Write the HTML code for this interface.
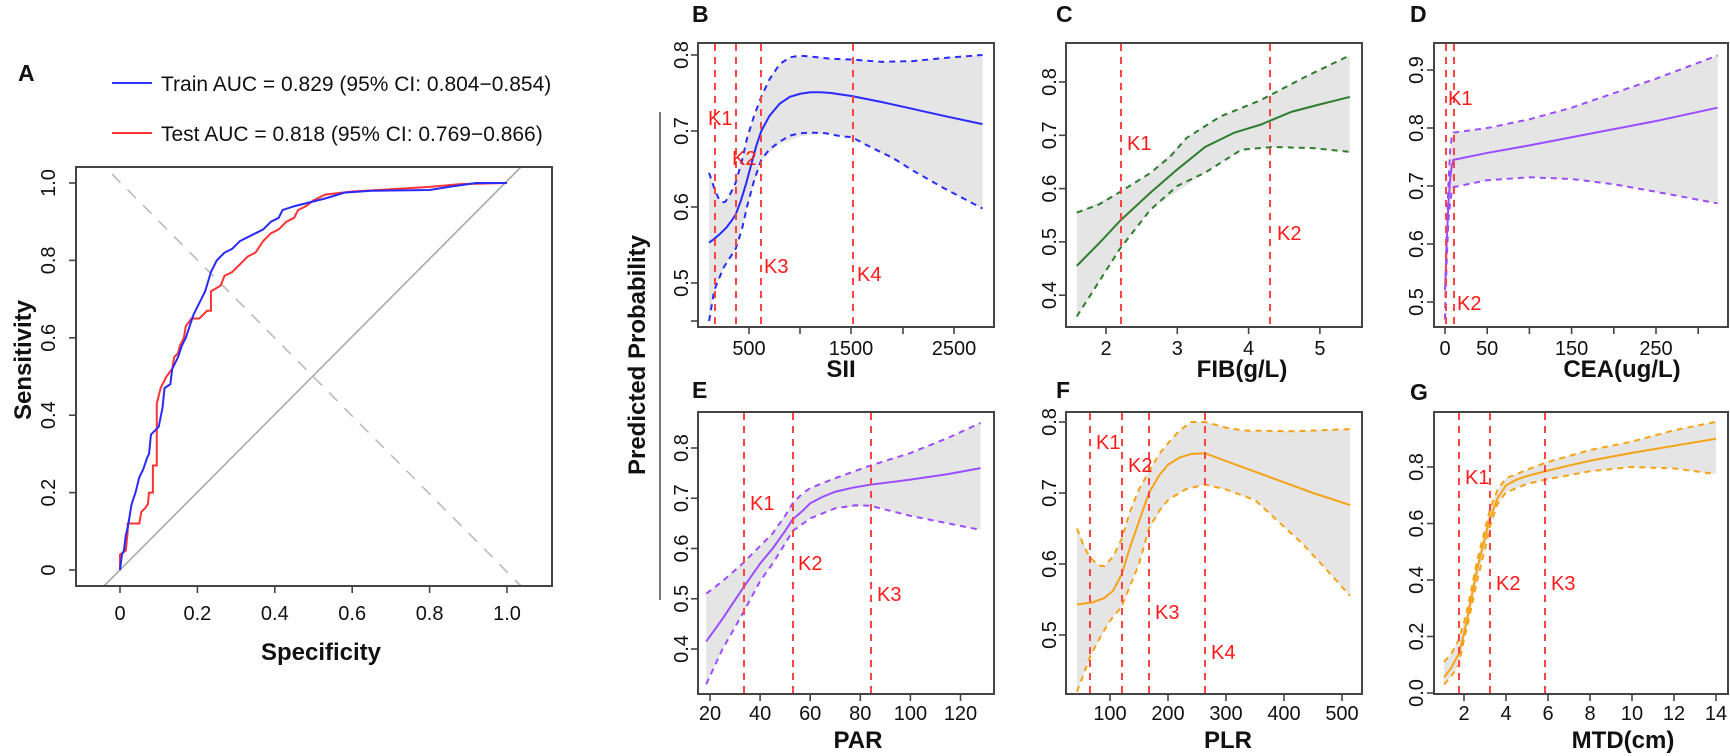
<!DOCTYPE html>
<html><head><meta charset="utf-8"><style>
html,body{margin:0;padding:0;background:#fff;}
svg{display:block;}
text{font-family:"Liberation Sans",Arial,sans-serif;}
.t{font-size:20px;fill:#111;}
.b{font-size:24px;font-weight:bold;fill:#111;}
.L{font-size:23px;font-weight:bold;fill:#111;}
.k{font-size:20px;fill:#ff1a1a;}
.fr{fill:none;stroke:#444;stroke-width:2;}
.tk{stroke:#444;stroke-width:1.6;}
.kl{stroke:#ff4444;stroke-width:2;stroke-dasharray:7,6;}
.sh{fill:#e5e5e5;stroke:none;}
.m{fill:none;stroke-width:2;vector-effect:non-scaling-stroke;}
.d{fill:none;stroke-width:2;stroke-dasharray:6,5;vector-effect:non-scaling-stroke;}
</style></head><body>
<svg width="1730" height="756" viewBox="0 0 1730 756" xmlns="http://www.w3.org/2000/svg">
<!-- ================= Panel A ================= -->
<text class="L" x="18" y="81">A</text>
<line x1="112" y1="83" x2="152" y2="83" stroke="#3333ff" stroke-width="2"/>
<text x="161" y="91" style="font-size:21px;fill:#111">Train AUC = 0.829 (95% CI: 0.804−0.854)</text>
<line x1="112" y1="133" x2="152" y2="133" stroke="#ff3333" stroke-width="2"/>
<text x="161" y="141" style="font-size:21px;fill:#111">Test AUC = 0.818 (95% CI: 0.769−0.866)</text>
<line x1="104" y1="586" x2="521" y2="167" stroke="#aaa" stroke-width="1.6"/>
<line x1="112" y1="174" x2="521" y2="586" stroke="#bbb" stroke-width="1.6" stroke-dasharray="12,10"/>
<g transform="matrix(387 0 0 -387 120 570)">
<polyline class="m" stroke="#ff3333" points="0,0 0,0.04 0.015,0.05 0.02,0.1 0.02,0.12 0.05,0.12 0.055,0.15 0.065,0.16 0.072,0.17 0.075,0.2 0.085,0.2 0.085,0.27 0.095,0.27 0.095,0.43 0.105,0.47 0.115,0.49 0.12,0.5 0.135,0.52 0.14,0.55 0.15,0.56 0.155,0.58 0.165,0.6 0.17,0.63 0.185,0.65 0.205,0.65 0.225,0.67 0.235,0.67 0.235,0.72 0.26,0.735 0.27,0.76 0.29,0.77 0.31,0.79 0.33,0.81 0.35,0.82 0.37,0.85 0.39,0.87 0.41,0.88 0.43,0.9 0.45,0.91 0.46,0.93 0.48,0.94 0.5,0.955 0.53,0.97 0.6,0.978 0.72,0.985 0.8,0.99 0.88,0.997 1,1"/>
<polyline class="m" stroke="#2a2aff" points="0,0 0.005,0.04 0.01,0.05 0.015,0.09 0.02,0.11 0.03,0.17 0.04,0.2 0.05,0.24 0.06,0.26 0.07,0.29 0.075,0.3 0.08,0.35 0.09,0.36 0.1,0.37 0.11,0.42 0.115,0.47 0.13,0.48 0.135,0.52 0.15,0.55 0.16,0.58 0.17,0.6 0.18,0.63 0.19,0.66 0.2,0.68 0.21,0.7 0.22,0.72 0.235,0.77 0.25,0.8 0.27,0.82 0.29,0.83 0.31,0.85 0.33,0.86 0.35,0.87 0.37,0.88 0.39,0.9 0.41,0.91 0.42,0.93 0.45,0.94 0.49,0.95 0.53,0.96 0.58,0.975 0.65,0.98 0.8,0.982 0.85,0.99 0.92,1 1,1"/>
</g>
<rect class="fr" x="76" y="167" width="476" height="419"/>
<g class="tk"><line x1="120" y1="586" x2="120" y2="593"/><line x1="197.4" y1="586" x2="197.4" y2="593"/><line x1="274.8" y1="586" x2="274.8" y2="593"/><line x1="352.2" y1="586" x2="352.2" y2="593"/><line x1="429.6" y1="586" x2="429.6" y2="593"/><line x1="507" y1="586" x2="507" y2="593"/>
<line x1="69" y1="570" x2="76" y2="570"/><line x1="69" y1="492.6" x2="76" y2="492.6"/><line x1="69" y1="415.2" x2="76" y2="415.2"/><line x1="69" y1="337.8" x2="76" y2="337.8"/><line x1="69" y1="260.4" x2="76" y2="260.4"/><line x1="69" y1="183" x2="76" y2="183"/></g>
<g class="t" text-anchor="middle"><text x="120" y="620">0</text><text x="197.4" y="620">0.2</text><text x="274.8" y="620">0.4</text><text x="352.2" y="620">0.6</text><text x="429.6" y="620">0.8</text><text x="507" y="620">1.0</text></g>
<g class="t" text-anchor="middle">
<text transform="translate(55,570) rotate(-90)">0</text><text transform="translate(55,492.6) rotate(-90)">0.2</text><text transform="translate(55,415.2) rotate(-90)">0.4</text><text transform="translate(55,337.8) rotate(-90)">0.6</text><text transform="translate(55,260.4) rotate(-90)">0.8</text><text transform="translate(55,183) rotate(-90)">1.0</text></g>
<text class="b" text-anchor="middle" x="321" y="660">Specificity</text>
<text class="b" text-anchor="middle" transform="translate(31,360) rotate(-90)">Sensitivity</text>

<!-- common y label -->
<line x1="660" y1="112" x2="660" y2="600" stroke="#555" stroke-width="1.6"/>
<text class="b" text-anchor="middle" transform="translate(645,355) rotate(-90)">Predicted Probability</text>

<!-- ================= Panel B ================= -->
<text class="L" x="692" y="22">B</text>
<g transform="matrix(0.1024 0 0 -760 697.8 663)">
<polygon class="sh" points="110,0.645 200,0.61 265,0.605 370,0.63 480,0.69 620,0.745 750,0.78 900,0.797 1100,0.798 1300,0.795 1500,0.794 1800,0.791 2100,0.792 2400,0.796 2780,0.8 2780,0.598 2400,0.625 2100,0.648 1800,0.67 1500,0.692 1250,0.697 1000,0.693 800,0.683 620,0.662 480,0.6 370,0.545 250,0.52 160,0.49 110,0.45"/>
<polyline class="d" stroke="#2a2aff" points="110,0.645 160,0.625 200,0.612 240,0.606 270,0.607 320,0.618 370,0.632 430,0.66 480,0.69 550,0.72 620,0.745 700,0.768 800,0.788 900,0.797 1000,0.799 1100,0.798 1300,0.795 1500,0.794 1800,0.791 2100,0.792 2400,0.796 2780,0.8"/>
<polyline class="d" stroke="#2a2aff" points="110,0.45 160,0.49 250,0.52 370,0.545 430,0.57 480,0.6 550,0.635 620,0.662 700,0.676 800,0.686 900,0.694 1000,0.697 1100,0.698 1250,0.697 1400,0.693 1500,0.692 1700,0.678 1900,0.665 2100,0.648 2400,0.625 2780,0.598"/>
<polyline class="m" stroke="#2a2aff" points="110,0.553 160,0.558 220,0.565 280,0.573 330,0.582 370,0.59 420,0.608 470,0.63 520,0.655 570,0.68 620,0.7 700,0.72 800,0.736 900,0.745 1000,0.749 1100,0.751 1200,0.751 1300,0.75 1400,0.748 1500,0.746 1800,0.738 2100,0.729 2400,0.72 2780,0.709"/>
</g>
<g class="kl"><line x1="715" y1="44" x2="715" y2="327"/><line x1="736" y1="44" x2="736" y2="327"/><line x1="761" y1="44" x2="761" y2="327"/><line x1="853" y1="44" x2="853" y2="327"/></g>
<g class="k"><text x="708" y="125">K1</text><text x="732" y="165">K2</text><text x="764" y="273">K3</text><text x="857" y="281">K4</text></g>
<rect class="fr" x="698" y="43" width="296" height="284"/>
<g class="tk"><line x1="749" y1="327" x2="749" y2="334"/><line x1="800" y1="327" x2="800" y2="334"/><line x1="851" y1="327" x2="851" y2="334"/><line x1="903" y1="327" x2="903" y2="334"/><line x1="954" y1="327" x2="954" y2="334"/>
<line x1="691" y1="55" x2="698" y2="55"/><line x1="691" y1="131" x2="698" y2="131"/><line x1="691" y1="207" x2="698" y2="207"/><line x1="691" y1="283" x2="698" y2="283"/><line x1="691" y1="321" x2="698" y2="321"/></g>
<g class="t" text-anchor="middle"><text x="749" y="355">500</text><text x="851" y="355">1500</text><text x="954" y="355">2500</text>
<text transform="translate(688,55) rotate(-90)">0.8</text><text transform="translate(688,131) rotate(-90)">0.7</text><text transform="translate(688,207) rotate(-90)">0.6</text><text transform="translate(688,283) rotate(-90)">0.5</text></g>
<text class="b" text-anchor="middle" x="841" y="377">SII</text>

<!-- ================= Panel C ================= -->
<text class="L" x="1056" y="22">C</text>
<g transform="matrix(71.3 0 0 -533 963.4 508.4)">
<polygon class="sh" points="1.59,0.555 2.2,0.594 2.62,0.629 3.13,0.695 3.6,0.735 4.17,0.766 4.8,0.81 5.42,0.85 5.42,0.669 4.9,0.676 4.33,0.678 3.9,0.673 3.39,0.63 2.62,0.56 2.2,0.488 1.59,0.36"/>
<polyline class="d" stroke="#2e7d2e" points="1.59,0.555 1.9,0.57 2.2,0.594 2.62,0.629 2.9,0.66 3.13,0.695 3.6,0.735 4.17,0.766 4.8,0.81 5.42,0.85"/>
<polyline class="d" stroke="#2e7d2e" points="1.59,0.36 1.9,0.425 2.2,0.488 2.62,0.56 3,0.605 3.39,0.63 3.9,0.673 4.33,0.678 4.9,0.676 5.42,0.669"/>
<polyline class="m" stroke="#2e7d2e" points="1.59,0.455 1.9,0.497 2.2,0.54 2.62,0.592 3,0.636 3.39,0.678 3.8,0.705 4.17,0.72 4.6,0.744 5,0.758 5.42,0.772"/>
</g>
<g class="kl"><line x1="1121" y1="44" x2="1121" y2="327"/><line x1="1270" y1="44" x2="1270" y2="327"/></g>
<g class="k"><text x="1127" y="150">K1</text><text x="1277" y="240">K2</text></g>
<rect class="fr" x="1066" y="43" width="296" height="284"/>
<g class="tk"><line x1="1106" y1="327" x2="1106" y2="334"/><line x1="1177.3" y1="327" x2="1177.3" y2="334"/><line x1="1248.6" y1="327" x2="1248.6" y2="334"/><line x1="1319.9" y1="327" x2="1319.9" y2="334"/>
<line x1="1059" y1="82" x2="1066" y2="82"/><line x1="1059" y1="135.3" x2="1066" y2="135.3"/><line x1="1059" y1="188.6" x2="1066" y2="188.6"/><line x1="1059" y1="241.9" x2="1066" y2="241.9"/><line x1="1059" y1="295.2" x2="1066" y2="295.2"/></g>
<g class="t" text-anchor="middle"><text x="1106" y="355">2</text><text x="1177.3" y="355">3</text><text x="1248.6" y="355">4</text><text x="1319.9" y="355">5</text>
<text transform="translate(1056,82) rotate(-90)">0.8</text><text transform="translate(1056,135.3) rotate(-90)">0.7</text><text transform="translate(1056,188.6) rotate(-90)">0.6</text><text transform="translate(1056,241.9) rotate(-90)">0.5</text><text transform="translate(1056,295.2) rotate(-90)">0.4</text></g>
<text class="b" text-anchor="middle" x="1242" y="377">FIB(g/L)</text>

<!-- ================= Panel D ================= -->
<text class="L" x="1410" y="22">D</text>
<g transform="matrix(0.844 0 0 -580 1445 592)">
<polygon class="sh" points="0,0.47 2,0.6 4,0.7 6,0.76 8,0.785 10,0.792 50,0.8 100,0.815 150,0.835 200,0.86 250,0.885 323,0.925 323,0.67 250,0.69 200,0.703 150,0.712 100,0.715 50,0.71 10,0.698 6,0.67 4,0.64 2,0.57 0,0.47"/>
<polyline class="d" stroke="#9b4dff" points="0,0.47 1,0.55 2,0.62 4,0.7 6,0.76 8,0.785 10,0.792 50,0.8 100,0.815 150,0.835 200,0.86 250,0.885 323,0.925"/>
<polyline class="d" stroke="#9b4dff" points="0,0.47 1,0.52 2,0.57 4,0.64 6,0.67 8,0.69 10,0.698 50,0.71 100,0.715 150,0.712 200,0.703 250,0.69 323,0.67"/>
<polyline class="m" stroke="#9b4dff" points="0,0.52 1,0.56 2,0.6 4,0.67 6,0.71 8,0.735 10,0.745 50,0.757 100,0.77 150,0.784 200,0.798 250,0.812 323,0.835"/>
</g>
<g class="kl"><line x1="1446" y1="44" x2="1446" y2="327"/><line x1="1454" y1="44" x2="1454" y2="327"/></g>
<g class="k"><text x="1448" y="105">K1</text><text x="1457" y="310">K2</text></g>
<rect class="fr" x="1434" y="43" width="294" height="284"/>
<g class="tk"><line x1="1445" y1="327" x2="1445" y2="334"/><line x1="1487.2" y1="327" x2="1487.2" y2="334"/><line x1="1529.4" y1="327" x2="1529.4" y2="334"/><line x1="1571.6" y1="327" x2="1571.6" y2="334"/><line x1="1613.8" y1="327" x2="1613.8" y2="334"/><line x1="1656" y1="327" x2="1656" y2="334"/><line x1="1698.2" y1="327" x2="1698.2" y2="334"/>
<line x1="1427" y1="70" x2="1434" y2="70"/><line x1="1427" y1="128" x2="1434" y2="128"/><line x1="1427" y1="186" x2="1434" y2="186"/><line x1="1427" y1="244" x2="1434" y2="244"/><line x1="1427" y1="302" x2="1434" y2="302"/></g>
<g class="t" text-anchor="middle"><text x="1445" y="355">0</text><text x="1487.2" y="355">50</text><text x="1571.6" y="355">150</text><text x="1656" y="355">250</text>
<text transform="translate(1423,70) rotate(-90)">0.9</text><text transform="translate(1423,128) rotate(-90)">0.8</text><text transform="translate(1423,186) rotate(-90)">0.7</text><text transform="translate(1423,244) rotate(-90)">0.6</text><text transform="translate(1423,302) rotate(-90)">0.5</text></g>
<text class="b" text-anchor="middle" x="1622" y="377">CEA(ug/L)</text>

<!-- ================= Panel E ================= -->
<text class="L" x="692" y="398">E</text>
<g transform="matrix(2.505 0 0 -502.5 659.9 850)">
<polygon class="sh" points="18.5,0.51 25,0.535 33,0.57 40,0.605 45,0.63 53,0.69 60,0.72 70,0.74 84,0.765 100,0.79 115,0.82 128,0.85 128,0.637 115,0.65 100,0.665 84,0.685 70,0.68 60,0.66 53,0.635 45,0.57 40,0.535 33,0.47 25,0.4 18.5,0.33"/>
<polyline class="d" stroke="#9b4dff" points="18.5,0.51 25,0.535 33,0.57 40,0.605 45,0.63 50,0.665 53,0.69 57,0.71 60,0.72 70,0.74 84,0.765 100,0.79 115,0.82 128,0.85"/>
<polyline class="d" stroke="#9b4dff" points="18.5,0.33 25,0.4 33,0.47 40,0.535 45,0.57 50,0.61 53,0.635 60,0.66 70,0.68 78,0.686 84,0.685 100,0.665 115,0.65 128,0.637"/>
<polyline class="m" stroke="#9b4dff" points="18.5,0.415 25,0.46 33,0.52 40,0.57 45,0.6 50,0.635 53,0.658 57,0.675 60,0.69 65,0.703 70,0.713 77,0.721 84,0.727 100,0.737 115,0.748 128,0.76"/>
</g>
<g class="kl"><line x1="744" y1="413" x2="744" y2="694"/><line x1="793" y1="413" x2="793" y2="694"/><line x1="871" y1="413" x2="871" y2="694"/></g>
<g class="k"><text x="750" y="510">K1</text><text x="798" y="570">K2</text><text x="877" y="601">K3</text></g>
<rect class="fr" x="698" y="412" width="296" height="282"/>
<g class="tk"><line x1="710" y1="694" x2="710" y2="701"/><line x1="760.1" y1="694" x2="760.1" y2="701"/><line x1="810.2" y1="694" x2="810.2" y2="701"/><line x1="860.3" y1="694" x2="860.3" y2="701"/><line x1="910.4" y1="694" x2="910.4" y2="701"/><line x1="960.5" y1="694" x2="960.5" y2="701"/>
<line x1="691" y1="448" x2="698" y2="448"/><line x1="691" y1="498.25" x2="698" y2="498.25"/><line x1="691" y1="548.5" x2="698" y2="548.5"/><line x1="691" y1="598.75" x2="698" y2="598.75"/><line x1="691" y1="649" x2="698" y2="649"/></g>
<g class="t" text-anchor="middle"><text x="710" y="720">20</text><text x="760.1" y="720">40</text><text x="810.2" y="720">60</text><text x="860.3" y="720">80</text><text x="910.4" y="720">100</text><text x="960.5" y="720">120</text>
<text transform="translate(688,448) rotate(-90)">0.8</text><text transform="translate(688,498.25) rotate(-90)">0.7</text><text transform="translate(688,548.5) rotate(-90)">0.6</text><text transform="translate(688,598.75) rotate(-90)">0.5</text><text transform="translate(688,649) rotate(-90)">0.4</text></g>
<text class="b" text-anchor="middle" x="858" y="748">PAR</text>

<!-- ================= Panel F ================= -->
<text class="L" x="1056" y="398">F</text>
<g transform="matrix(0.58 0 0 -710 1052 990)">
<polygon class="sh" points="43,0.65 65,0.61 80,0.598 90,0.597 105,0.61 120,0.635 135,0.675 150,0.705 167,0.73 185,0.755 200,0.77 220,0.788 240,0.8 264,0.8 300,0.792 330,0.788 420,0.787 514,0.79 514,0.555 470,0.595 430,0.63 390,0.66 350,0.69 300,0.705 264,0.712 230,0.705 200,0.69 167,0.65 150,0.6 120,0.54 100,0.52 66,0.47 43,0.42"/>
<polyline class="d" stroke="#f5a316" points="43,0.65 55,0.625 65,0.61 80,0.598 90,0.597 105,0.61 120,0.635 135,0.675 150,0.705 167,0.73 185,0.755 200,0.77 220,0.788 240,0.8 264,0.8 300,0.792 330,0.788 420,0.787 514,0.79"/>
<polyline class="d" stroke="#f5a316" points="43,0.42 66,0.47 85,0.5 100,0.52 120,0.54 135,0.57 150,0.6 167,0.65 185,0.675 200,0.69 230,0.705 264,0.712 300,0.705 350,0.69 390,0.66 430,0.63 470,0.595 514,0.555"/>
<polyline class="m" stroke="#f5a316" points="43,0.543 70,0.546 90,0.552 105,0.562 120,0.585 135,0.625 150,0.66 167,0.7 185,0.725 200,0.74 220,0.75 240,0.755 264,0.756 300,0.745 350,0.73 400,0.715 450,0.7 514,0.683"/>
</g>
<g class="kl"><line x1="1090" y1="413" x2="1090" y2="694"/><line x1="1122" y1="413" x2="1122" y2="694"/><line x1="1149" y1="413" x2="1149" y2="694"/><line x1="1205" y1="413" x2="1205" y2="694"/></g>
<g class="k"><text x="1096" y="449">K1</text><text x="1128" y="472">K2</text><text x="1155" y="619">K3</text><text x="1211" y="659">K4</text></g>
<rect class="fr" x="1066" y="412" width="296" height="282"/>
<g class="tk"><line x1="1110" y1="694" x2="1110" y2="701"/><line x1="1168" y1="694" x2="1168" y2="701"/><line x1="1226" y1="694" x2="1226" y2="701"/><line x1="1284" y1="694" x2="1284" y2="701"/><line x1="1342" y1="694" x2="1342" y2="701"/>
<line x1="1059" y1="422" x2="1066" y2="422"/><line x1="1059" y1="493" x2="1066" y2="493"/><line x1="1059" y1="564" x2="1066" y2="564"/><line x1="1059" y1="635" x2="1066" y2="635"/></g>
<g class="t" text-anchor="middle"><text x="1110" y="720">100</text><text x="1168" y="720">200</text><text x="1226" y="720">300</text><text x="1284" y="720">400</text><text x="1342" y="720">500</text>
<text transform="translate(1056,422) rotate(-90)">0.8</text><text transform="translate(1056,493) rotate(-90)">0.7</text><text transform="translate(1056,564) rotate(-90)">0.6</text><text transform="translate(1056,635) rotate(-90)">0.5</text></g>
<text class="b" text-anchor="middle" x="1228" y="748">PLR</text>

<!-- ================= Panel G ================= -->
<text class="L" x="1410" y="400">G</text>
<g transform="matrix(21 0 0 -282.5 1422 693)">
<polygon class="sh" points="1.05,0.11 1.4,0.14 1.76,0.19 2,0.25 2.2,0.31 2.6,0.46 3,0.58 3.24,0.65 3.6,0.72 4,0.76 5,0.79 5.87,0.815 8,0.86 10,0.89 12,0.93 14,0.96 14,0.775 12,0.795 10,0.8 8,0.785 5.87,0.755 5,0.74 4,0.71 3.6,0.67 3.24,0.59 3,0.51 2.6,0.39 2.2,0.25 2,0.19 1.76,0.1 1.4,0.06 1.05,0.03"/>
<polyline class="d" stroke="#f5a316" points="1.05,0.11 1.4,0.14 1.76,0.19 2,0.25 2.2,0.31 2.6,0.46 3,0.58 3.24,0.65 3.6,0.72 4,0.76 5,0.79 5.87,0.815 8,0.86 10,0.89 12,0.93 14,0.96"/>
<polyline class="d" stroke="#f5a316" points="1.05,0.03 1.4,0.06 1.76,0.1 2,0.19 2.2,0.25 2.6,0.39 3,0.51 3.24,0.59 3.6,0.67 4,0.71 5,0.74 5.87,0.755 8,0.785 10,0.8 12,0.795 14,0.775"/>
<polyline class="m" stroke="#f5a316" points="1.05,0.055 1.4,0.09 1.76,0.14 2,0.21 2.2,0.28 2.6,0.43 3,0.55 3.24,0.62 3.6,0.69 4,0.735 4.5,0.755 5,0.768 5.87,0.785 7,0.805 8,0.822 10,0.85 12,0.875 14,0.9"/>
</g>
<g class="kl"><line x1="1459" y1="413" x2="1459" y2="694"/><line x1="1490" y1="413" x2="1490" y2="694"/><line x1="1545" y1="413" x2="1545" y2="694"/></g>
<g class="k"><text x="1465" y="484">K1</text><text x="1496" y="590">K2</text><text x="1551" y="590">K3</text></g>
<rect class="fr" x="1434" y="412" width="294" height="282"/>
<g class="tk"><line x1="1464" y1="694" x2="1464" y2="701"/><line x1="1506" y1="694" x2="1506" y2="701"/><line x1="1548" y1="694" x2="1548" y2="701"/><line x1="1590" y1="694" x2="1590" y2="701"/><line x1="1632" y1="694" x2="1632" y2="701"/><line x1="1674" y1="694" x2="1674" y2="701"/><line x1="1716" y1="694" x2="1716" y2="701"/>
<line x1="1427" y1="693" x2="1434" y2="693"/><line x1="1427" y1="636.5" x2="1434" y2="636.5"/><line x1="1427" y1="580" x2="1434" y2="580"/><line x1="1427" y1="523.5" x2="1434" y2="523.5"/><line x1="1427" y1="467" x2="1434" y2="467"/></g>
<g class="t" text-anchor="middle"><text x="1464" y="720">2</text><text x="1506" y="720">4</text><text x="1548" y="720">6</text><text x="1590" y="720">8</text><text x="1632" y="720">10</text><text x="1674" y="720">12</text><text x="1716" y="720">14</text>
<text transform="translate(1423,693) rotate(-90)">0.0</text><text transform="translate(1423,636.5) rotate(-90)">0.2</text><text transform="translate(1423,580) rotate(-90)">0.4</text><text transform="translate(1423,523.5) rotate(-90)">0.6</text><text transform="translate(1423,467) rotate(-90)">0.8</text></g>
<text class="b" text-anchor="middle" x="1623" y="748">MTD(cm)</text>
</svg>
</body></html>
